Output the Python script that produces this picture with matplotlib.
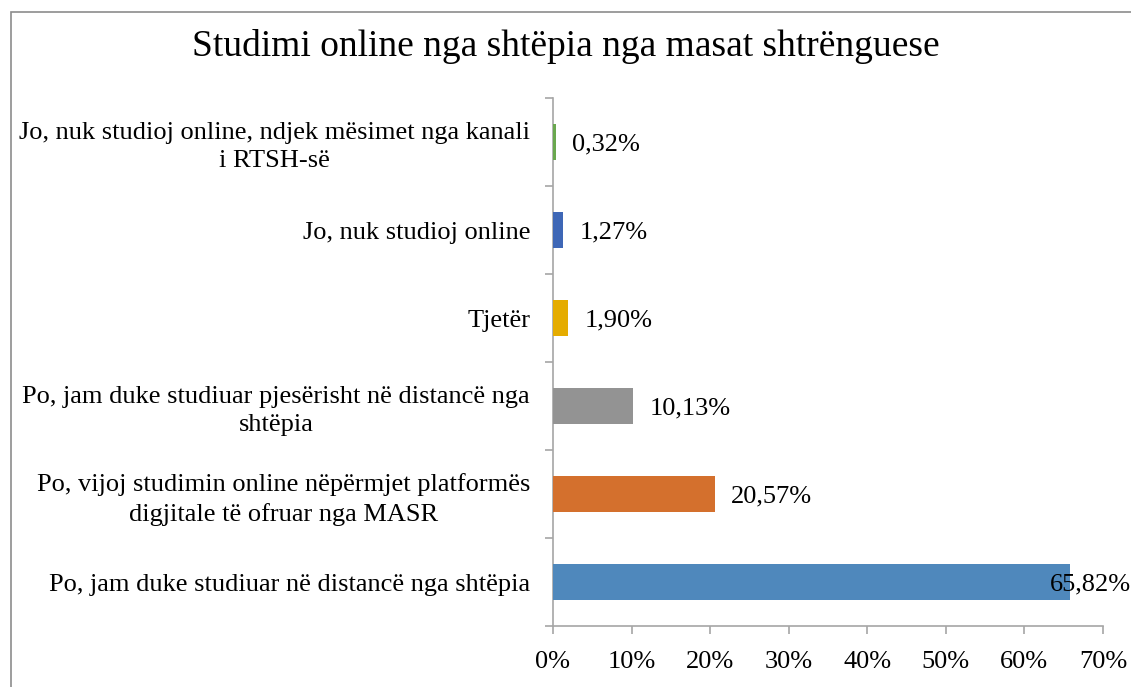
import matplotlib
matplotlib.use("Agg")
import matplotlib.pyplot as plt
from matplotlib.patches import Rectangle

plt.rcParams['font.family'] = ['Liberation Serif']

categories = [
    "Jo, nuk studioj online, ndjek mësimet nga kanali\ni RTSH-së",
    "Jo, nuk studioj online",
    "Tjetër",
    "Po, jam duke studiuar pjesërisht në distancë nga\nshtëpia",
    "Po, vijoj studimin online nëpërmjet platformës\ndigjitale të ofruar nga MASR",
    "Po, jam duke studiuar në distancë nga shtëpia",
]
values = [0.32, 1.27, 1.90, 10.13, 20.57, 65.82]
value_labels = ["0,32%", "1,27%", "1,90%", "10,13%", "20,57%", "65,82%"]
colors = ["#6aa84f", "#3e67b6", "#e5ac00", "#939393", "#d4702d", "#4f88bc"]
xticks = [0, 10, 20, 30, 40, 50, 60, 70]
xtick_labels = ["0%", "10%", "20%", "30%", "40%", "50%", "60%", "70%"]
title = "Studimi online nga shtëpia nga masat shtrënguese"

W, H = 1131, 687
fig = plt.figure(figsize=(W / 100, H / 100), dpi=100)
fig.patch.set_facecolor('white')

# outer frame
fig.add_artist(Rectangle((11 / W, -0.1), 1.2, 1 - 12 / H + 0.1, transform=fig.transFigure,
                         fill=False, edgecolor='#8c8c8c', linewidth=1.2))

ax = fig.add_axes([553 / W, 1 - 626 / H, (1103 - 553) / W, (626 - 98) / H])
ypos = list(range(len(categories)))
ax.barh(ypos, values, height=0.405, color=colors, zorder=3)
ax.set_ylim(-0.5, len(categories) - 0.5)
ax.invert_yaxis()
ax.set_xlim(0, 70)

ax.set_yticks(ypos)
ax.set_yticklabels(categories, fontsize=19, multialignment='center', linespacing=1.35)
ax.set_yticks([i - 0.5 for i in range(len(categories) + 1)], minor=True)
ax.tick_params(axis='y', which='major', length=0, pad=16.5)
ax.tick_params(axis='y', which='minor', length=6, width=1.2, color='#a6a6a6')

ax.set_xticks(xticks)
ax.set_xticklabels(xtick_labels, fontsize=19)
ax.tick_params(axis='x', length=6, width=1.2, color='#a6a6a6', pad=12)

for s in ['top', 'right']:
    ax.spines[s].set_visible(False)
for s in ['left', 'bottom']:
    ax.spines[s].set_color('#a6a6a6')
    ax.spines[s].set_linewidth(1.2)

for i, (v, lab) in enumerate(zip(values, value_labels)):
    if i == len(values) - 1:
        ax.annotate(lab, xy=(1.0, i), xycoords=('figure fraction', 'data'),
                    xytext=(0, -2), textcoords='offset points',
                    ha='right', va='center', fontsize=19, zorder=4)
    else:
        ax.annotate(lab, xy=(v, i), xytext=(12, -2), textcoords='offset points',
                    ha='left', va='center', fontsize=19, zorder=4)

fig.text(0.5, 1 - 47 / H, title, ha='center', va='center', fontsize=27)

fig.savefig("out.png", dpi=100)
